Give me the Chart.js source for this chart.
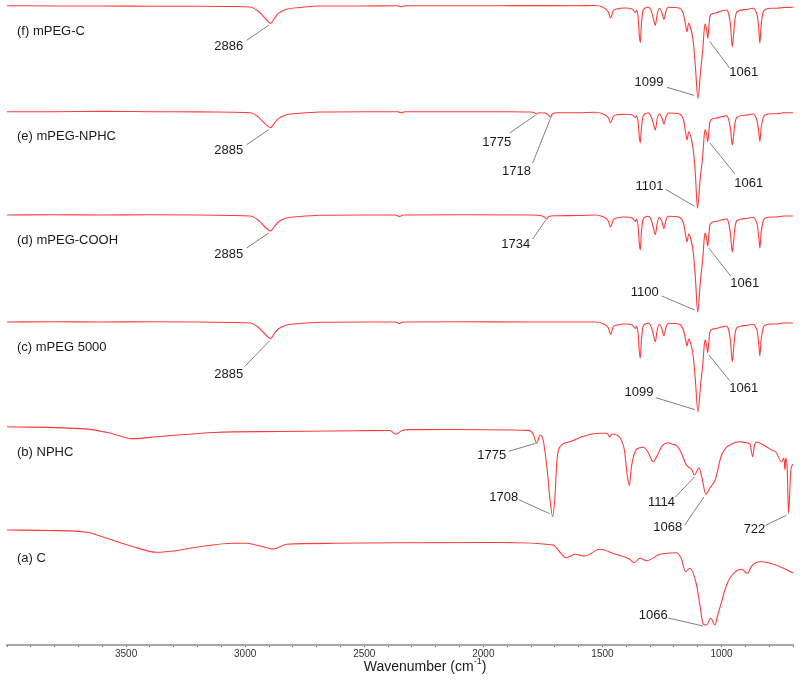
<!DOCTYPE html>
<html>
<head>
<meta charset="utf-8">
<script src="https://cdn.jsdelivr.net/npm/chart.js@4.4.0/dist/chart.umd.min.js"></script>
<style>
  html, body { margin: 0; padding: 0; background: #fff; }
  #wrap { width: 800px; height: 683px; }
</style>
</head>
<body>
<div id="wrap"><canvas id="ftir"></canvas></div>
<script>
// FTIR spectra, each as [wavenumber, relative transmittance]
const specA = [
  [4000, 0], [3819, -0.5], [3665, -2.3], [3610, -6], [3470, -16.7], [3372, -22.3], [3302, -21],
  [3190, -16.7], [3050, -13.3], [2994, -13.3], [2938, -16], [2882, -19], [2826, -14.3],
  [2630, -13.3], [2364, -12.7], [1930, -12.5], [1707, -15], [1679, -22], [1653, -27.7],
  [1616, -24.3], [1574, -26], [1511, -19.3], [1448, -24], [1385, -29.3], [1367, -32.7],
  [1342, -28.3], [1315, -30.7], [1259, -24.3], [1189, -22.7], [1170, -28], [1151, -41.7],
  [1133, -38.3], [1105, -55], [1091, -75], [1077, -94], [1063, -95], [1045, -88.3], [1028, -95],
  [1016, -85], [1000, -72], [986, -60], [965, -48.3], [916, -39.3], [892, -43.3], [873, -36],
  [839, -31.7], [797, -33], [755, -36.7], [700, -42.7]
];
const specB = [
  [4000, 0.2], [3670, -1.9], [3568, -6], [3475, -11.6], [3358, -9.5], [3131, -5.5], [2854, -4.5],
  [2531, -3.7], [2392, -3.5], [2367, -7.3], [2342, -3.5], [2305, -2.6], [2140, -2.5], [1810, -3.4],
  [1791, -7], [1776, -16.3], [1762, -8], [1749, -13], [1732, -43], [1720, -73], [1709, -89.7],
  [1699, -68], [1691, -33], [1678, -19.7], [1636, -14.7], [1587, -9.7], [1509, -6.3], [1481, -6.3],
  [1470, -9.7], [1459, -7], [1425, -11.3], [1408, -23], [1396, -48], [1387, -58.5], [1380, -43],
  [1370, -29.7], [1355, -22], [1329, -20.3], [1309, -25], [1287, -34.7], [1271, -29], [1250, -19],
  [1224, -15.7], [1208, -17], [1189, -18.7], [1175, -23], [1147, -38], [1124, -43], [1114, -48],
  [1094, -40.7], [1082, -51], [1066, -67], [1049, -61], [1027, -53], [1000, -28], [951, -16.3],
  [923, -14.7], [902, -15.5], [881, -17], [869, -29.7], [862, -18], [853, -15.3], [811, -19.7],
  [790, -23], [772, -25], [748, -34.7], [738, -31], [734, -43], [730, -31], [724, -43], [719, -86.3],
  [709, -43], [700, -37]
];
const specC = [
  [4000, 0], [3800, 0.3], [3600, 0], [3400, 0.2], [3200, 0], [3050, -0.5], [2980, -1], [2946, -5],
  [2917, -12], [2893, -16.6], [2879, -12], [2861, -7], [2826, -3], [2770, -1.5], [2686, -0.3],
  [2500, 0], [2370, 0], [2352, -1.5], [2335, 0], [2100, 0.2], [1800, 0], [1600, 0], [1531, 0],
  [1500, -1.5], [1475, -6], [1466, -12.3], [1455, -5], [1440, -3], [1406, -2], [1375, -3],
  [1361, -6.5], [1357, -4], [1350, -12], [1345, -30], [1341, -36], [1337, -20], [1330, -5],
  [1322, -2.3], [1308, -1.3], [1295, -5], [1285, -14], [1278, -19.7], [1270, -8], [1261, -2.3],
  [1250, -7], [1242, -13.7], [1233, -5], [1224, -1.3], [1200, -1.5], [1175, -2.5], [1160, -8],
  [1150, -19], [1145, -24], [1138, -17], [1130, -21], [1119, -34], [1110, -58], [1099, -89.7],
  [1088, -63], [1079, -43], [1072, -22], [1068, -18], [1062, -25], [1058, -30.7], [1053, -19],
  [1049, -10], [1035, -7], [1021, -6.3], [1000, -5], [979, -4], [970, -8], [962, -20], [955, -39.7],
  [950, -29], [944, -13], [935, -5.5], [900, -3.5], [867, -2.3], [855, -6], [849, -11], [843, -24],
  [839, -34], [834, -18], [825, -6], [815, -3], [790, -2], [769, -2], [740, -1], [700, -1]
];
const specD = [
  [4000, 0], [3800, 0.2], [3600, 0], [3400, 0.2], [3200, 0], [3050, -0.5], [2980, -1], [2946, -5],
  [2917, -12], [2893, -16], [2879, -12], [2861, -7], [2826, -3], [2770, -1.5], [2686, -0.3],
  [2500, 0], [2370, 0], [2352, -1.5], [2335, 0], [2100, 0.2], [1800, 0], [1760, -0.5], [1745, -2],
  [1734, -4], [1725, -1.5], [1700, -0.8], [1600, -0.5], [1531, 0], [1500, -1.5], [1475, -6],
  [1466, -12], [1455, -5], [1440, -3], [1406, -2], [1375, -3], [1361, -6.5], [1357, -4], [1350, -12],
  [1345, -29], [1341, -35], [1337, -19], [1330, -5], [1322, -2.3], [1308, -1.3], [1295, -5],
  [1285, -14], [1278, -19.5], [1270, -8], [1261, -2.3], [1250, -7], [1242, -13.5], [1233, -5],
  [1224, -1.3], [1200, -1.5], [1175, -2.5], [1160, -8], [1150, -21], [1145, -27], [1138, -19],
  [1130, -23], [1119, -37], [1110, -62], [1100, -97], [1089, -67], [1079, -44], [1072, -22],
  [1068, -18], [1062, -25], [1058, -31], [1053, -19], [1049, -10], [1035, -7], [1021, -6.3],
  [1000, -5], [979, -4], [970, -8], [962, -20], [955, -37], [950, -28], [944, -13], [935, -5.5],
  [900, -3.5], [867, -2.3], [855, -6], [849, -11], [843, -24], [839, -33], [834, -18], [825, -6],
  [815, -3], [790, -2], [769, -2], [740, -1], [700, -1]
];
const specE = [
  [4000, 0], [3800, 0], [3600, 0.3], [3400, 0], [3200, -0.2], [3050, -0.5], [2980, -1], [2946, -5],
  [2917, -12], [2893, -16], [2879, -12], [2861, -7], [2826, -3], [2770, -1.5], [2686, -0.3],
  [2500, 0], [2360, 0], [2345, -1], [2330, 0], [2100, 0], [1900, 0], [1800, -0.3], [1785, -1],
  [1776, -2.3], [1765, -1], [1740, -1.3], [1728, -3], [1718, -5.6], [1710, -2], [1690, -1],
  [1600, -1], [1531, -0.5], [1500, -2], [1475, -6], [1466, -11], [1455, -5], [1440, -3],
  [1406, -2.5], [1375, -3], [1361, -6], [1357, -4], [1350, -11], [1345, -26], [1341, -31],
  [1337, -18], [1330, -5], [1322, -2.3], [1308, -1.3], [1295, -5], [1285, -13], [1278, -18.3],
  [1270, -7], [1261, -2.3], [1250, -6.5], [1242, -12.3], [1233, -5], [1224, -1.3], [1200, -1.5],
  [1175, -2.5], [1160, -8], [1150, -22], [1145, -28.3], [1138, -20], [1130, -24], [1119, -38],
  [1110, -62], [1101, -96.6], [1090, -68], [1079, -44], [1072, -22], [1068, -18], [1062, -24],
  [1058, -30], [1053, -19], [1049, -10], [1035, -7], [1021, -6.3], [1000, -5], [979, -4], [970, -8],
  [962, -18], [955, -33.3], [950, -25], [944, -12], [935, -5.5], [900, -3.5], [867, -2.3], [855, -6],
  [849, -11], [843, -22], [839, -30], [834, -17], [825, -6], [815, -3], [790, -2], [769, -2],
  [740, -1], [700, -1]
];
const specF = [
  [4000, 0.3], [3800, 0], [3610, 0], [3400, -0.2], [3190, -0.3], [3050, -0.5], [2980, -1], [2946, -5],
  [2917, -12], [2893, -17.3], [2879, -13], [2861, -7.3], [2826, -3.3], [2770, -1.5], [2686, 0],
  [2500, 0], [2360, 0.3], [2345, -0.8], [2330, 0.2], [2100, 0.3], [1944, 0.3], [1800, 0.4],
  [1600, 0.3], [1531, 0.5], [1500, -1], [1475, -6], [1466, -12], [1455, -5], [1440, -3],
  [1406, -2], [1375, -3], [1361, -6.7], [1357, -4], [1350, -12], [1345, -30], [1341, -36.7],
  [1337, -20], [1330, -5], [1322, -2.3], [1308, -1.3], [1295, -5], [1285, -14], [1278, -19.3],
  [1270, -8], [1261, -2.3], [1250, -7], [1242, -13.3], [1233, -5], [1224, -1.3], [1200, -1.5],
  [1175, -2.3], [1160, -8], [1150, -20], [1145, -25.7], [1138, -17], [1130, -22], [1119, -35],
  [1110, -60], [1099, -92.3], [1088, -65], [1079, -44], [1072, -22], [1068, -18], [1062, -25],
  [1058, -32.3], [1053, -20], [1049, -10.7], [1035, -7.5], [1021, -6.7], [1000, -5], [979, -4],
  [970, -8], [962, -20], [955, -40.7], [950, -30], [944, -14], [935, -5.7], [900, -3.5], [867, -2.3],
  [855, -6], [849, -11], [843, -25], [839, -37.3], [834, -20], [825, -6], [815, -3.3], [790, -2.3],
  [769, -2.3], [740, -1.5], [700, -1.3]
];

const traceNames = ['(a) C', '(b) NPHC', '(c) mPEG 5000', '(d) mPEG-COOH', '(e) mPEG-NPHC', '(f) mPEG-C'];
const spectra = [specA, specB, specC, specD, specE, specF];
const offsets = [115, 218, 323, 430, 533.3, 639];   // vertical stacking of the traces
const tickLabels = [3500, 3000, 2500, 2000, 1500, 1000];

// peak labels: trace index, wavenumber of marked point, text,
// leader start dx,dy, leader end dx,dy, text centre dx,dy (pixels from the point)
const peakLabels = [
  [5, 2893, '2886', -2, 2, -24, 17, -42, 23],
  [5, 1099, '1099', -4, -3, -31, -11, -49, -16],
  [5, 1058, '1061', 2, 3, 22, 30, 36, 34],
  [4, 2893, '2885', -2, 2, -24, 17, -42, 23],
  [4, 1776, '1775', -1, 1, -27, 19, -40, 28],
  [4, 1718, '1718', 0, 1, -18, 46, -34, 54],
  [4, 1101, '1101', -3, -2, -32, -19, -48, -22],
  [4, 1058, '1061', 2, 1, 27, 32, 41, 42],
  [3, 2893, '2885', -2, 2, -24, 17, -42, 23],
  [3, 1734, '1734', -1, 1, -14, 20, -31, 25],
  [3, 1100, '1100', -3, -2, -36, -16, -53, -20],
  [3, 1058, '1061', 1, 2, 23, 30, 37, 37],
  [2, 2893, '2885', -1, 2, -26, 28, -42, 36],
  [2, 1099, '1099', -3, -2, -42, -14, -59, -19],
  [2, 1058, '1061', 1, 2, 22, 28, 36, 36],
  [1, 1776, '1775', -1, 0, -28, 8, -45, 12],
  [1, 1709, '1708', -3, -3, -34, -17, -49, -19],
  [1, 1114, '1114', 0, 2, -19, 22, -33, 27],
  [1, 1066, '1068', -2, 3, -21, 31, -38, 33],
  [1, 719, '722', -2, 2, -23, 12, -34, 16],
  [0, 1077, '1066', 0, 2, -35, -6, -50, -9]
];

const lineColor = '#ff3b3b';
const textFont = '13px "Liberation Sans", Arial, sans-serif';

const datasets = spectra.map((spec, i) => ({
  label: traceNames[i],
  data: spec.map(([w, t]) => ({ x: w, y: offsets[i] + t })),
  borderColor: lineColor,
  borderWidth: 1.1,
  pointRadius: 0,
  fill: false,
  cubicInterpolationMode: 'monotone'
}));

const labelPlugin = {
  id: 'ftirLabels',
  afterDatasetsDraw(chart) {
    const ctx = chart.ctx;
    const xs = chart.scales.x;
    const ys = chart.scales.y;
    ctx.save();
    ctx.font = textFont;
    ctx.fillStyle = '#1a1a1a';
    ctx.textBaseline = 'middle';

    // trace names
    ctx.textAlign = 'left';
    traceNames.forEach((name, i) => {
      const y0 = ys.getPixelForValue(offsets[i]);
      ctx.fillText(name, 17, y0 + (i === 0 ? 28 : 25));
    });

    // peak labels with leader lines
    ctx.textAlign = 'center';
    peakLabels.forEach(([ti, wn, txt, sx, sy, ex, ey, tx, ty]) => {
      const pt = spectra[ti].find(p => p[0] === wn);
      const px = xs.getPixelForValue(wn);
      const py = ys.getPixelForValue(offsets[ti] + pt[1]);
      ctx.strokeStyle = '#7f7f7f';
      ctx.lineWidth = 1;
      ctx.beginPath();
      ctx.moveTo(px + sx, py + sy);
      ctx.lineTo(px + ex, py + ey);
      ctx.stroke();
      ctx.fillText(txt, px + tx, py + ty);
    });

    // axis title with superscript
    const ca = chart.chartArea;
    const tY = ca.bottom + 22;
    ctx.font = '14px "Liberation Sans", Arial, sans-serif';
    ctx.textAlign = 'left';
    const main = 'Wavenumber (cm';
    const sup = '-1';
    const close = ')';
    const wMain = ctx.measureText(main).width;
    const wClose = ctx.measureText(close).width;
    ctx.font = '9px "Liberation Sans", Arial, sans-serif';
    const wSup = ctx.measureText(sup).width;
    const total = wMain + wSup + wClose;
    let x0 = 425 - total / 2;
    ctx.font = '14px "Liberation Sans", Arial, sans-serif';
    ctx.fillText(main, x0, tY);
    ctx.font = '9px "Liberation Sans", Arial, sans-serif';
    ctx.fillText(sup, x0 + wMain, tY - 5);
    ctx.font = '14px "Liberation Sans", Arial, sans-serif';
    ctx.fillText(close, x0 + wMain + wSup, tY);
    ctx.restore();
  }
};

new Chart(document.getElementById('ftir').getContext('2d'), {
  type: 'line',
  data: { datasets: datasets },
  options: {
    responsive: true,
    maintainAspectRatio: false,
    animation: false,
    layout: { padding: { left: 7, right: 7, top: 0, bottom: 22 } },
    plugins: { legend: { display: false }, tooltip: { enabled: false } },
    scales: {
      x: {
        type: 'linear',
        reverse: true,
        min: 700,
        max: 4000,
        border: { display: true, color: '#a8a8a8', width: 2 },
        grid: { drawOnChartArea: false, drawTicks: true, tickLength: 2, tickColor: '#555', tickWidth: 1 },
        ticks: {
          stepSize: 100,
          autoSkip: false,
          maxRotation: 0,
          padding: 1,
          color: '#333',
          font: { family: '"Liberation Sans", Arial, sans-serif', size: 10 },
          callback: (v) => tickLabels.includes(v) ? String(v) : ''
        }
      },
      y: {
        type: 'linear',
        display: false,
        min: 0,
        max: 645
      }
    }
  },
  plugins: [labelPlugin]
});
</script>
</body>
</html>
